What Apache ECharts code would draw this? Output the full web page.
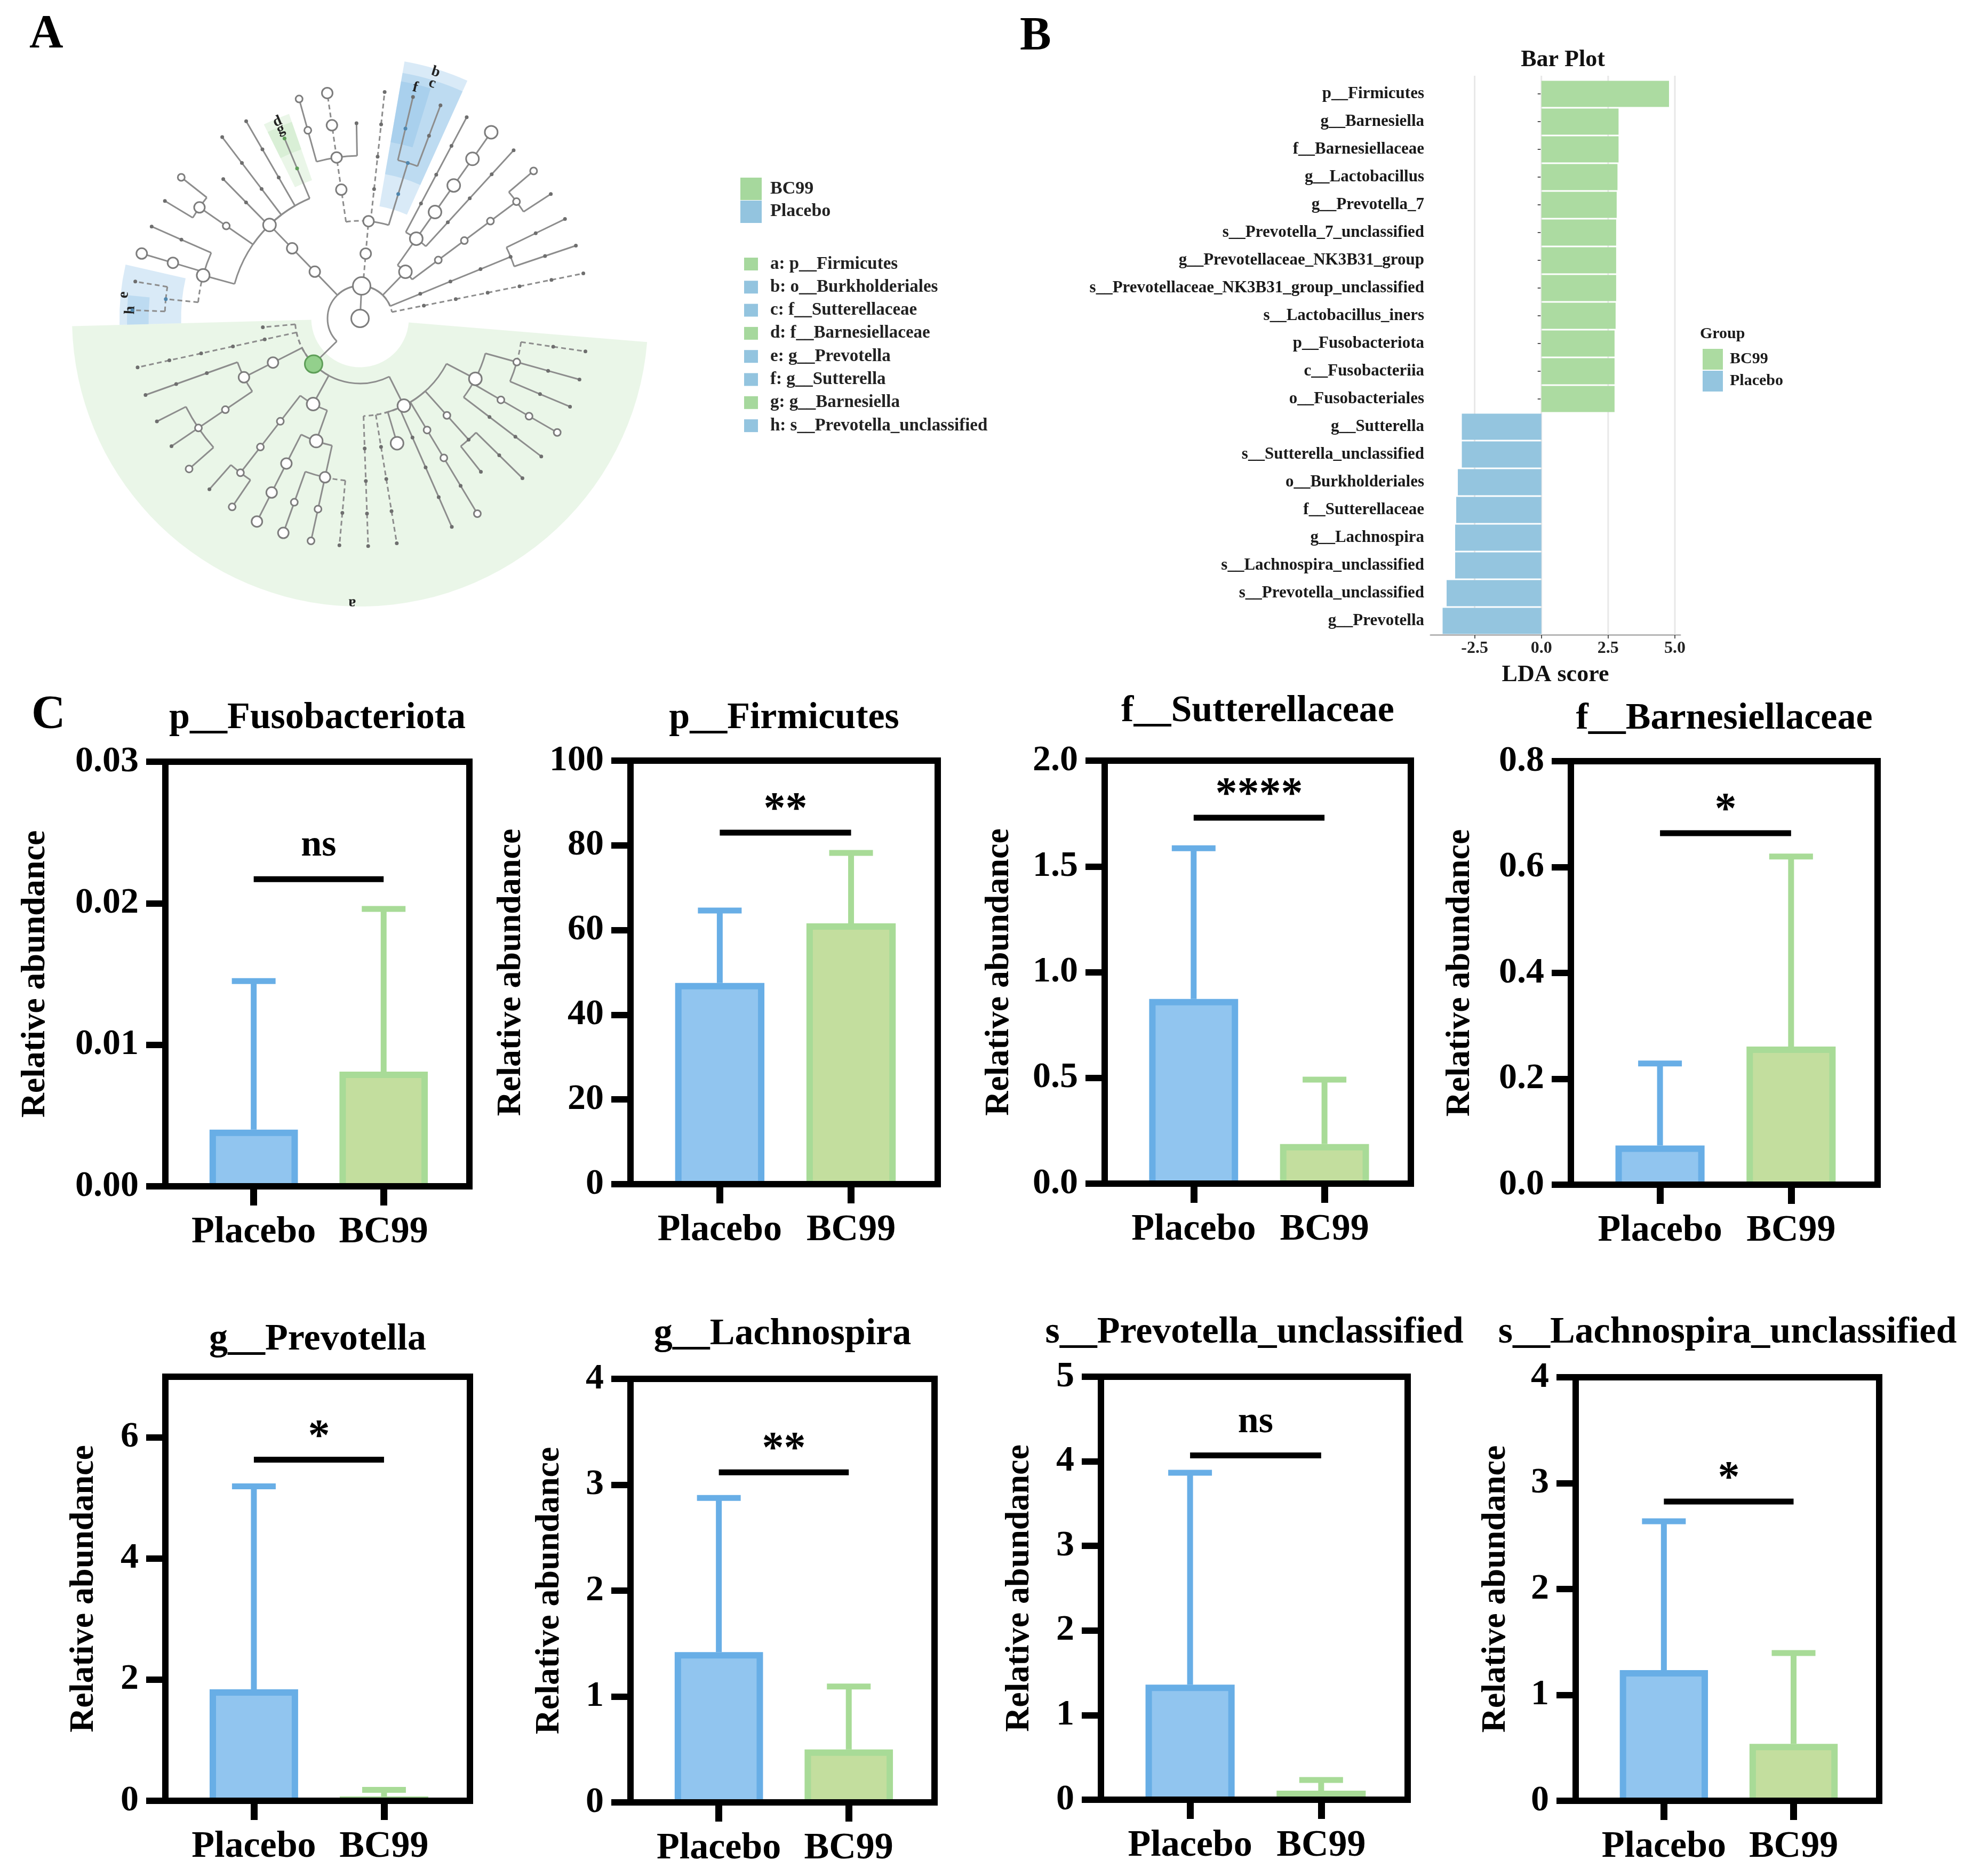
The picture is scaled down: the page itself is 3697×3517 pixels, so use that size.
<!DOCTYPE html>
<html><head><meta charset="utf-8">
<script src="https://cdn.jsdelivr.net/npm/echarts@6/dist/echarts.min.js"></script>
<style>html,body{margin:0;padding:0;background:#fff}#c{width:3697px;height:3517px}</style>
</head><body><div id="c"></div>
<script>
// ---------------- DATA ----------------
// Panel B: LEfSe LDA scores
const ldaNames = ['p__Firmicutes','g__Barnesiella','f__Barnesiellaceae','g__Lactobacillus','g__Prevotella_7',
  's__Prevotella_7_unclassified','g__Prevotellaceae_NK3B31_group','s__Prevotellaceae_NK3B31_group_unclassified',
  's__Lactobacillus_iners','p__Fusobacteriota','c__Fusobacteriia','o__Fusobacteriales','g__Sutterella',
  's__Sutterella_unclassified','o__Burkholderiales','f__Sutterellaceae','g__Lachnospira',
  's__Lachnospira_unclassified','s__Prevotella_unclassified','g__Prevotella'];
const ldaScores = [4.78, 2.89, 2.89, 2.85, 2.82, 2.80, 2.80, 2.80, 2.78, 2.74, 2.74, 2.74,
  -2.98, -2.98, -3.13, -3.19, -3.23, -3.23, -3.55, -3.70];
const ldaGroups = ['BC99','BC99','BC99','BC99','BC99','BC99','BC99','BC99','BC99','BC99','BC99','BC99',
  'Placebo','Placebo','Placebo','Placebo','Placebo','Placebo','Placebo','Placebo'];
const ldaTicks = [-2.5, 0, 2.5, 5.0];

// Panel C: relative abundance (mean + SD)
const groupNames = ['Placebo', 'BC99'];
const taxaTitles = ['p__Fusobacteriota','p__Firmicutes','f__Sutterellaceae','f__Barnesiellaceae',
  'g__Prevotella','g__Lachnospira','s__Prevotella_unclassified','s__Lachnospira_unclassified'];
const meanPlacebo = [0.0040, 47.5, 0.873, 0.074, 1.84, 1.42, 1.36, 1.234];
const sdPlacebo   = [0.0105, 17.1, 0.713, 0.155, 3.35, 1.455, 2.505, 1.406];
const meanBC99    = [0.0081, 61.6, 0.187, 0.261, 0.02, 0.50, 0.07, 0.538];
const sdBC99      = [0.0115, 16.6, 0.305, 0.359, 0.16, 0.595, 0.163, 0.857];
const sigLabels   = ['ns','**','****','*','*','**','ns','*'];
const sigLevels   = [0.0217, 83.0, 1.730, 0.664, 5.63, 3.117, 4.07, 2.826];
const yMaxes      = [0.03, 100, 2.0, 0.8, 7, 4, 5, 4];
const yTickVals   = [[0,0.01,0.02,0.03],[0,20,40,60,80,100],[0,0.5,1.0,1.5,2.0],[0,0.2,0.4,0.6,0.8],
  [0,2,4,6],[0,1,2,3,4],[0,1,2,3,4,5],[0,1,2,3,4]];
const yTickDecimals = [2,0,1,1,0,0,0,0];

// Panel A: cladogram taxonomy (a = abundance class 1..5, d = dashed branch)
function T(name, a, kids, d) { return { name: name, a: a, kids: kids || [], d: !!d }; }
const cladeTree = T('Root', 5, [
 T('k__Bacteria', 5, [
  T('p__Fusobacteriota',1,[T('c__Fusobacteriia',1,[T('o__Fusobacteriales',1,[T('f__Fusobacteriaceae',1,[
    T('g__Fusobacterium',1,[T('s__Fusobacterium_unclassified',1,[],1)],1)],1)],1)],1)],1),
  T('p__Desulfobacterota',1,[T('c__Desulfovibrionia',1,[T('o__Desulfovibrionales',1,[T('f__Desulfovibrionaceae',1,[
    T('g__Bilophila',1,[T('s__Bilophila_unclassified',1)]),
    T('g__Desulfovibrio',1,[T('s__Desulfovibrio_unclassified',1)])])])])]),
  T('p__Actinobacteriota',4,[
    T('c__Coriobacteriia',2,[T('o__Coriobacteriales',2,[T('f__Coriobacteriaceae',2,[T('g__Collinsella',2,[
      T('s__Collinsella_aerofaciens',1), T('s__Collinsella_unclassified',2)])])])]),
    T('c__Actinobacteria',4,[
      T('o__Micrococcales',1,[T('f__Micrococcaceae',1,[T('g__Rothia',1,[T('s__Rothia_unclassified',1)])])]),
      T('o__Bifidobacteriales',4,[T('f__Bifidobacteriaceae',4,[T('g__Bifidobacterium',4,[T('s__Bifidobacterium_unclassified',4)])])]),
      T('o__Corynebacteriales',1,[T('f__Corynebacteriaceae',1,[T('g__Corynebacterium',1,[T('s__Corynebacterium_unclassified',1)])])])])]),
  T('p__Proteobacteria',3,[T('c__Gammaproteobacteria',3,[
    T('o__Burkholderiales',1,[T('f__Sutterellaceae',1,[
      T('g__Parasutterella',1,[T('s__Parasutterella_unclassified',1)]),
      T('g__Sutterella',1,[T('s__Sutterella_unclassified',1)])])]),
    T('o__Enterobacterales',1,[T('f__Enterobacteriaceae',1,[T('g__Escherichia_Shigella',1,[T('s__Escherichia_coli',1,[],1)],1)],1)],1),
    T('o__Pasteurellales',3,[T('f__Pasteurellaceae',3,[
      T('g__Actinobacillus',1),
      T('g__Haemophilus',3,[T('s__Haemophilus_parainfluenzae',3,[],1)],1),
      T('g__Aggregatibacter',2,[T('s__Aggregatibacter_unclassified',2)])],1)],1)],1)],1),
  T('p__Bacteroidota',3,[T('c__Bacteroidia',3,[T('o__Bacteroidales',4,[
    T('f__Barnesiellaceae',1,[T('g__Barnesiella',1)]),
    T('f__Rikenellaceae',1,[T('g__Alistipes',1,[T('s__Alistipes_unclassified',1)])]),
    T('f__Tannerellaceae',1,[T('g__Parabacteroides',1,[T('s__Parabacteroides_distasonis',1)])]),
    T('f__Muribaculaceae',1,[T('g__Muribaculaceae_unclassified',1)]),
    T('f__Bacteroidaceae',2,[T('g__Bacteroides',3,[T('s__Bacteroides_uniformis',2), T('s__Bacteroides_unclassified',1)])]),
    T('f__Prevotellaceae',4,[
      T('g__Prevotella_7',1,[T('s__Prevotella_7_unclassified',1)]),
      T('g__Prevotellaceae_NK3B31_group',3,[T('s__Prevotellaceae_NK3B31_group_unclassified',3)]),
      T('g__Prevotella',1,[T('s__Prevotella_copri',1,[],1), T('s__Prevotella_unclassified',1,[],1)],1)])])])]),
  T('p__Firmicutes',5,[
    T('c__Firmicutes_unclassified',1,[],1),
    T('c__Negativicutes',1,[T('o__Veillonellales',1,[T('f__Veillonellaceae',1,[T('g__Dialister',1,[T('s__Dialister_unclassified',1,[],1)],1)],1)],1)],1),
    T('c__Bacilli',3,[T('o__Lactobacillales',3,[
      T('f__Streptococcaceae',1,[T('g__Streptococcus',1,[T('s__Streptococcus_unclassified',1)])]),
      T('f__Lactobacillaceae',2,[T('g__Lactobacillus',2,[T('s__Lactobacillus_ruminis',1),
        T('s__Lactobacillus_iners',1), T('s__Lactobacillus_unclassified',2)])])])]),
    T('c__Clostridia',4,[
      T('o__Oscillospirales',2,[T('f__Ruminococcaceae',2,[T('g__Faecalibacterium',2,[
        T('s__Faecalibacterium_unclassified',1), T('s__Faecalibacterium_prausnitzii',2)])])]),
      T('o__Lachnospirales',4,[
        T('f__Anaerovoracaceae',3,[T('g__Eubacterium',3,[T('s__Eubacterium_unclassified',3)])]),
        T('f__Lachnospiraceae',3,[
          T('g__Roseburia',2,[T('s__Roseburia_unclassified',3)]),
          T('g__Blautia',2,[T('s__Blautia_unclassified',2)]),
          T('g__Lachnospira',1,[T('s__Lachnospira_unclassified',1,[],1)],1)])])]),
    T('c__Erysipelotrichia',4,[
      T('o__Erysipelotrichales',1,[T('f__Erysipelotrichaceae',1,[T('g__Holdemanella',1,[T('s__Holdemanella_unclassified',1,[],1)],1)],1)],1),
      T('o__Acholeplasmatales',1,[T('f__Acholeplasmataceae',1,[T('g__Acholeplasma',1,[T('s__Acholeplasma_unclassified',1,[],1)],1)],1)],1),
      T('o__Christensenellales',4),
      T('o__Peptostreptococcales',1,[T('f__Peptostreptococcaceae',1,[T('g__Romboutsia',1,[T('s__Romboutsia_unclassified',1)])])]),
      T('o__Monoglobales',2,[T('f__Monoglobaceae',2,[T('g__Monoglobus',1,[T('s__Monoglobus_pectinilyticus',2)])])]),
      T('o__Eubacteriales',2,[T('f__Eubacteriaceae',1,[T('g__Anaerofustis',1),
        T('g__Pseudoramibacter',1,[T('s__Pseudoramibacter_unclassified',1)])])]),
      T('o__Oscillospirales_2',4,[
        T('f__Butyricicoccaceae',1,[T('g__Butyricicoccus',1,[T('s__Butyricicoccus_unclassified',1)])]),
        T('f__Oscillospiraceae',2,[T('g__Oscillibacter',2,[T('s__Oscillibacter_unclassified',2)])]),
        T('f__Ruminococcaceae_2',2,[T('g__Ruminococcus',1,[T('s__Ruminococcus_bromii',1)]),
          T('g__Subdoligranulum',1,[T('s__Subdoligranulum_unclassified',1)]),
          T('g__Gemmiger',1,[T('s__Gemmiger_formicilis',1,[],1)],1)])])])])
 ])
]);
const cladoLetters = ['a','b','c','d','e','f','g','h'];
const cladoMarkers = ['p__Firmicutes','o__Burkholderiales','f__Sutterellaceae','f__Barnesiellaceae',
  'g__Prevotella','g__Sutterella','g__Barnesiella','s__Prevotella_unclassified'];
const cladoGroups = ['BC99','Placebo','Placebo','BC99','Placebo','Placebo','BC99','Placebo'];

// ---------------- STYLE / LAYOUT ----------------
const FONT = '"Liberation Serif","Times New Roman",serif';
const GREEN_BAR = '#acdba1', BLUE_BAR = '#94c5df';
const GREEN_L = '#a6d89d', BLUE_L = '#93c4df';
const PLA_FILL = '#91c5ef', PLA_LINE = '#68aee6', BC_FILL = '#c3de9e', BC_LINE = '#a8db97';
const LEAF_START = 11.4, LEAF_STEP = 7.24, LEVEL_PX = 61, POLAR_R = 540;
const RMAX = POLAR_R / LEVEL_PX;
const sizeMap = {1: 7, 2: 13, 3: 20, 4: 24, 5: 33};
const padByLevel = {2: 113, 3: 85, 4: 62, 5: 40, 6: 24, 7: 10};

// ---------------- cladogram layout ----------------
let leafCounter = 0;
const nodeIndex = {};
function walk(node, level) {
  node.level = level; nodeIndex[node.name] = node;
  if (!node.kids.length) {
    node.i0 = node.i1 = leafCounter; node.angle = LEAF_START + LEAF_STEP * leafCounter; node.maxLevel = level; leafCounter++;
  } else {
    node.kids.forEach(k => walk(k, level + 1));
    node.angle = node.kids.reduce((s, k) => s + k.angle, 0) / node.kids.length;
    node.i0 = node.kids[0].i0; node.i1 = node.kids[node.kids.length - 1].i1;
    node.maxLevel = Math.max.apply(null, node.kids.map(k => k.maxLevel));
  }
}
walk(cladeTree, 0);
const nodeData = [], edgeData = [];
function collect(node, parent) {
  const mi = cladoMarkers.indexOf(node.name);
  const hl = mi < 0 ? 0 : (cladoGroups[mi] === 'BC99' ? 1 : 2);
  nodeData.push([node.level, node.angle, node.a, hl]);
  if (parent) edgeData.push([node.level, node.angle, parent.level, parent.angle, node.d ? 1 : 0]);
  node.kids.forEach(k => collect(k, node));
}
collect(cladeTree, null);
const wedgeData = cladoMarkers.map((m, i) => {
  const n = nodeIndex[m];
  const a0 = LEAF_START + LEAF_STEP * n.i0 - LEAF_STEP / 2;
  const a1 = LEAF_START + LEAF_STEP * n.i1 + LEAF_STEP / 2;
  const r0 = n.level - 0.5;
  const r1 = n.maxLevel + padByLevel[n.level] / LEVEL_PX;
  return [r1, (a0 + a1) / 2, r0, a0, a1, cladoGroups[i] === 'BC99' ? 1 : 0];
});

// ---------------- panel C layout ----------------
const cGrids = [
  {left: 310, top: 1428, width: 570, height: 796, gap: 212, ty: 1347},
  {left: 1182, top: 1426, width: 576, height: 794, gap: 192, ty: 1347},
  {left: 2071, top: 1426, width: 574, height: 793, gap: 166, ty: 1334},
  {left: 2945, top: 1427, width: 575, height: 794, gap: 176, ty: 1348},
  {left: 310, top: 2581, width: 571, height: 795, gap: 121, ty: 2512},
  {left: 1182, top: 2585, width: 570, height: 794, gap: 120, ty: 2502},
  {left: 2064, top: 2581, width: 575, height: 793, gap: 121, ty: 2499},
  {left: 2954, top: 2582, width: 569, height: 794, gap: 118, ty: 2499}
];

const grids = [{left: 2682, top: 150, width: 468, height: 1040}];
const xAxes = [{
  gridIndex: 0, type: 'value', min: -4.15, max: 5.2,
  axisLine: {show: true, lineStyle: {color: '#b5b5b5', width: 3}},
  axisTick: {show: true, length: 7, customValues: ldaTicks, lineStyle: {color: '#555', width: 2}},
  axisLabel: {customValues: ldaTicks, formatter: v => v.toFixed(1), fontSize: 32, fontWeight: 'bold', fontFamily: FONT, color: '#222', margin: 10},
  splitLine: {show: false},
  name: 'LDA score', nameLocation: 'middle', nameGap: 54,
  nameTextStyle: {fontSize: 44, fontWeight: 'bold', fontFamily: FONT, color: '#111'}
}];
const yAxes = [{
  gridIndex: 0, type: 'category', inverse: true, data: ldaNames,
  axisLine: {show: false},
  axisTick: {show: true, length: 7, alignWithLabel: true, lineStyle: {color: '#555', width: 2}},
  axisLabel: {interval: 0, fontSize: 31, fontWeight: 'bold', fontFamily: FONT, color: '#1a1a1a', margin: 12},
  splitLine: {show: false}
}];
const series = [];

// Panel B gridlines (behind bars)
series.push({
  type: 'custom', xAxisIndex: 0, yAxisIndex: 0, z: 1, silent: true,
  data: ldaTicks.map(v => [v, 0]),
  renderItem: function (params, api) {
    const cs = params.coordSys;
    const x = api.coord([api.value(0), 0])[0];
    return {type: 'line', shape: {x1: x, y1: cs.y - 8, x2: x, y2: cs.y + cs.height}, style: {stroke: '#e8e8e8', lineWidth: 3}};
  }
});
series.push({
  name: 'BC99', type: 'bar', xAxisIndex: 0, yAxisIndex: 0, z: 2,
  data: ldaScores.map((v, i) => ldaGroups[i] === 'BC99' ? v : '-'),
  barGap: '-100%', barCategoryGap: '6%', itemStyle: {color: GREEN_BAR}
});
series.push({
  name: 'Placebo', type: 'bar', xAxisIndex: 0, yAxisIndex: 0, z: 2,
  data: ldaScores.map((v, i) => ldaGroups[i] === 'Placebo' ? v : '-'),
  barGap: '-100%', barCategoryGap: '6%', itemStyle: {color: BLUE_BAR}
});

// Panel C charts
cGrids.forEach((g, i) => {
  const gi = i + 1;
  grids.push({left: g.left, top: g.top, width: g.width, height: g.height});
  xAxes.push({
    gridIndex: gi, type: 'value', min: 0.32, max: 2.66,
    axisLine: {show: false},
    axisTick: {show: true, length: 36, customValues: [1, 2], lineStyle: {color: '#000', width: 13}},
    axisLabel: {customValues: [1, 2], formatter: v => groupNames[Math.round(v) - 1], fontSize: 70, fontWeight: 'bold', fontFamily: FONT, color: '#000', margin: 52},
    splitLine: {show: false}
  });
  yAxes.push({
    gridIndex: gi, type: 'value', min: 0, max: yMaxes[i],
    axisLine: {show: false},
    axisTick: {show: true, length: 36, customValues: yTickVals[i], lineStyle: {color: '#000', width: 12}},
    axisLabel: {customValues: yTickVals[i], formatter: v => v.toFixed(yTickDecimals[i]), fontSize: 68, fontWeight: 'bold', fontFamily: FONT, color: '#000', margin: 50},
    splitLine: {show: false},
    name: 'Relative abundance', nameLocation: 'middle', nameGap: g.gap,
    nameTextStyle: {fontSize: 64, fontWeight: 'bold', fontFamily: FONT, color: '#000'}
  });
  series.push({
    type: 'custom', xAxisIndex: gi, yAxisIndex: gi, z: 2, silent: true,
    data: [[1, meanPlacebo[i], sdPlacebo[i], 0], [2, meanBC99[i], sdBC99[i], 1]],
    renderItem: function (params, api) {
      const x = api.value(0), m = api.value(1), sd = api.value(2), grp = api.value(3);
      const fill = grp ? BC_FILL : PLA_FILL, stroke = grp ? BC_LINE : PLA_LINE;
      const lft = api.coord([x - 0.34, 0]), rgt = api.coord([x + 0.34, m]);
      const top = api.coord([x, m]), et = api.coord([x, m + sd]);
      const base = lft[1];
      const w = rgt[0] - lft[0], h = base - top[1];
      const ch = [
        {type: 'line', shape: {x1: top[0], y1: top[1], x2: et[0], y2: et[1]}, style: {stroke: stroke, lineWidth: 11}},
        {type: 'line', shape: {x1: et[0] - 41, y1: et[1], x2: et[0] + 41, y2: et[1]}, style: {stroke: stroke, lineWidth: 11}}
      ];
      if (h > 16) ch.push({type: 'rect', shape: {x: lft[0] + 6, y: top[1] + 6, width: w - 12, height: h - 6}, style: {fill: fill, stroke: stroke, lineWidth: 12}});
      else ch.push({type: 'rect', shape: {x: lft[0], y: top[1] - 6, width: w, height: h + 6}, style: {fill: stroke}});
      return {type: 'group', children: ch};
    }
  });
  series.push({
    type: 'custom', xAxisIndex: gi, yAxisIndex: gi, z: 5, silent: true,
    data: [[1, 2, sigLevels[i]]],
    renderItem: function (params, api) {
      const cs = params.coordSys;
      const p1 = api.coord([api.value(0), api.value(2)]), p2 = api.coord([api.value(1), api.value(2)]);
      const lab = sigLabels[i];
      const star = lab.indexOf('*') >= 0;
      return {type: 'group', children: [
        {type: 'rect', shape: {x: cs.x, y: cs.y, width: cs.width, height: cs.height}, style: {fill: 'none', stroke: '#000', lineWidth: 12}},
        {type: 'line', shape: {x1: p1[0], y1: p1[1], x2: p2[0], y2: p2[1]}, style: {stroke: '#000', lineWidth: 11}},
        {type: 'text', x: (p1[0] + p2[0]) / 2, y: p1[1] - (star ? 41 : 62),
         style: {text: lab, font: 'bold ' + (star ? 82 : 70) + 'px ' + FONT, fill: '#000', textAlign: 'center', textVerticalAlign: 'middle'}}
      ]};
    }
  });
});

// Panel A: cladogram series
series.push({
  type: 'custom', coordinateSystem: 'polar', polarIndex: 0, z: 1, silent: true,
  data: wedgeData,
  renderItem: function (params, api) {
    const cs = params.coordSys, cx = cs.cx, cy = cs.cy;
    const r1 = api.value(0), mid = api.value(1), r0 = api.value(2), a0 = api.value(3), a1 = api.value(4), grp = api.value(5);
    const pOut = api.coord([r1, mid]), pIn = api.coord([r0, mid]);
    const R1 = Math.hypot(pOut[0] - cx, pOut[1] - cy), R0 = Math.hypot(pIn[0] - cx, pIn[1] - cy);
    const lab = api.coord([r1 - 6 / LEVEL_PX, mid]);
    return {type: 'group', children: [
      {type: 'sector', shape: {cx: cx, cy: cy, r0: R0, r: R1, startAngle: -a1 * Math.PI / 180, endAngle: -a0 * Math.PI / 180, clockwise: true},
       style: {fill: grp ? 'rgba(160,215,150,0.22)' : 'rgba(120,180,225,0.28)'}},
      {type: 'text', x: lab[0], y: lab[1], rotation: (mid - 90) * Math.PI / 180, z2: 10,
       style: {text: cladoLetters[params.dataIndex], font: 'bold 28px ' + FONT, fill: '#222', textAlign: 'center', textVerticalAlign: 'middle'}}
    ]};
  }
});
series.push({
  type: 'custom', coordinateSystem: 'polar', polarIndex: 0, z: 2, silent: true,
  data: edgeData,
  renderItem: function (params, api) {
    const cs = params.coordSys, cx = cs.cx, cy = cs.cy;
    const cl = api.value(0), ca = api.value(1), pl = api.value(2), pa = api.value(3), dash = api.value(4);
    const p1 = api.coord([pl, ca]), p2 = api.coord([cl, ca]);
    const st = {stroke: '#8d8d8d', lineWidth: 3, fill: 'none', lineDash: dash ? [9, 6] : null};
    const ch = [{type: 'line', shape: {x1: p1[0], y1: p1[1], x2: p2[0], y2: p2[1]}, style: st}];
    if (pl > 0 && Math.abs(pa - ca) > 0.05) {
      const rp = Math.hypot(p1[0] - cx, p1[1] - cy);
      const lo = Math.min(pa, ca), hi = Math.max(pa, ca);
      ch.push({type: 'arc', shape: {cx: cx, cy: cy, r: rp, startAngle: -hi * Math.PI / 180, endAngle: -lo * Math.PI / 180, clockwise: true},
        style: {stroke: '#8d8d8d', lineWidth: 3, fill: 'none', lineDash: dash ? [9, 6] : null}});
    }
    return {type: 'group', children: ch};
  }
});
series.push({
  type: 'custom', coordinateSystem: 'polar', polarIndex: 0, z: 3, silent: true,
  data: nodeData,
  renderItem: function (params, api) {
    const p = api.coord([api.value(0), api.value(1)]);
    const s = api.value(2), hl = api.value(3);
    const d = sizeMap[s];
    let style;
    if (hl === 1 && s > 1) style = {fill: '#93d08c', stroke: '#5e9e58', lineWidth: 3};
    else if (s === 1) style = {fill: hl === 2 ? '#4f86ad' : (hl === 1 ? '#5e9e58' : '#6e6e6e'), stroke: 'none'};
    else style = {fill: '#fff', stroke: '#7d7d7d', lineWidth: 3};
    return {type: 'circle', shape: {cx: p[0], cy: p[1], r: d / 2}, style: style};
  }
});

// ---------------- graphics (texts, legend A) ----------------
const graphics = [];
function txt(x, y, text, size, align, color) {
  graphics.push({type: 'text', x: x, y: y, style: {text: text, font: 'bold ' + size + 'px ' + FONT, fill: color || '#000', textAlign: align || 'left', textVerticalAlign: 'middle'}});
}
txt(55, 65, 'A', 88); txt(1912, 69, 'B', 88); txt(59, 1341, 'C', 88);
txt(2930, 113, 'Bar Plot', 44, 'center', '#111');
txt(3187, 626, 'Group', 30, 'left', '#1a1a1a');
cGrids.forEach((g, i) => txt(g.left + g.width / 2, g.ty, taxaTitles[i], 70, 'center'));
[['BC99', GREEN_L], ['Placebo', BLUE_L]].forEach((it, i) => {
  graphics.push({type: 'rect', shape: {x: 1388, y: 333 + i * 43, width: 40, height: 42}, style: {fill: it[1]}});
  txt(1444, 354 + i * 42, it[0], 34, 'left', '#222');
});
cladoLetters.forEach((l, i) => {
  const y = 495 + i * 43.3;
  graphics.push({type: 'rect', shape: {x: 1395, y: y - 12, width: 26, height: 24}, style: {fill: cladoGroups[i] === 'BC99' ? GREEN_L : BLUE_L}});
  txt(1444, y, l + ': ' + cladoMarkers[i], 33, 'left', '#222');
});

const option = {
  animation: false,
  backgroundColor: '#fff',
  grid: grids,
  xAxis: xAxes,
  yAxis: yAxes,
  polar: {center: [675, 597], radius: [0, POLAR_R]},
  angleAxis: {type: 'value', min: 0, max: 360, startAngle: 0, clockwise: false, show: false},
  radiusAxis: {type: 'value', min: 0, max: RMAX, show: false},
  legend: {
    data: ['BC99', 'Placebo'], orient: 'vertical', left: 3187, top: 649, itemWidth: 38, itemHeight: 39, itemGap: 2,
    icon: 'rect', selectedMode: false,
    textStyle: {fontSize: 30, fontWeight: 'bold', fontFamily: FONT, color: '#1a1a1a', padding: [0, 0, 0, 8]}
  },
  graphic: graphics,
  series: series
};
const chart = echarts.init(document.getElementById('c'), null, {renderer: 'canvas'});
chart.setOption(option);
</script></body></html>
